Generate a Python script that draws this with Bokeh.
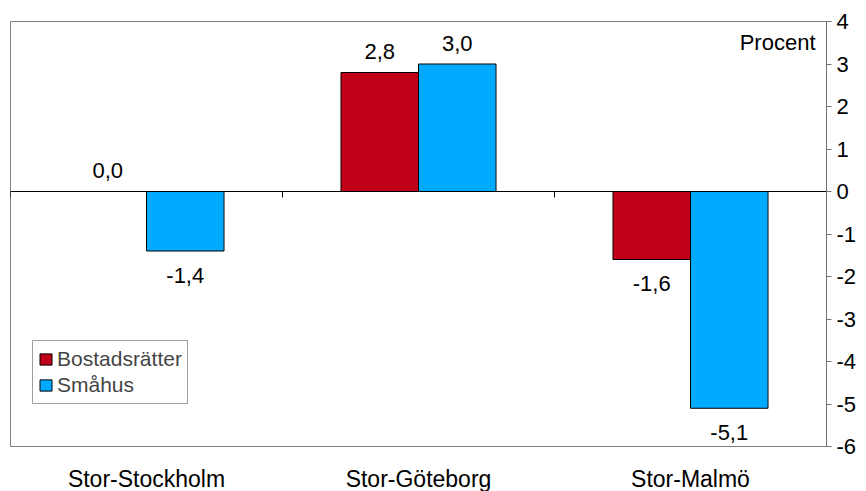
from bokeh.plotting import figure
from bokeh.models import (ColumnDataSource, LinearAxis, FixedTicker,
                          Range1d, Legend, LegendItem)
from bokeh.transform import dodge
from bokeh.core.properties import value
from bokeh.embed import file_html
from bokeh.resources import INLINE

# ---- data ----
regions = ["Stor-Stockholm", "Stor-Göteborg", "Stor-Malmö"]
bostadsratter = [0.0, 2.8, -1.6]
smahus = [-1.4, 3.0, -5.1]
series_names = ["Bostadsrätter", "Småhus"]
y_ticks = [-6, -5, -4, -3, -2, -1, 0, 1, 2, 3, 4]
unit_label = "Procent"

FONT = "Liberation Sans"
RED = "#C00018"
BLUE = "#00AAFF"
BAR_W = 0.285

n = len(regions)
centers = [i + 0.5 for i in range(n)]

p = figure(x_range=Range1d(0, n), y_range=Range1d(y_ticks[0], y_ticks[-1]),
           frame_width=816, frame_height=425, output_backend="svg",
           toolbar_location=None, y_axis_location="right",
           min_border_left=10, min_border_top=21, min_border_right=0, min_border_bottom=0)
p.grid.visible = False
p.outline_line_color = "#808080"
p.background_fill_color = "white"
p.border_fill_color = "white"

# right value axis
ya = p.yaxis[0]
ya.ticker = FixedTicker(ticks=y_ticks)
ya.major_label_overrides = {t: str(t) for t in y_ticks}
ya.major_tick_in = 0
ya.major_tick_out = 5
ya.minor_tick_line_color = None
ya.axis_line_color = "#707070"
ya.major_tick_line_color = "#707070"
ya.major_label_text_font = FONT
ya.major_label_text_font_size = "22px"
ya.major_label_text_color = "black"
ya.major_label_standoff = 5

# category axis
xa = p.xaxis[0]
xa.ticker = FixedTicker(ticks=centers)
xa.major_label_overrides = {c: r for c, r in zip(centers, regions)}
xa.axis_line_color = None
xa.major_tick_line_color = None
xa.major_tick_out = 0
xa.major_tick_in = 0
xa.minor_tick_line_color = None
xa.major_label_text_font = FONT
xa.major_label_text_font_size = "23px"
xa.major_label_text_color = "black"
xa.major_label_standoff = 19

# zero line with category separator ticks
zax = LinearAxis(fixed_location=0,
                 ticker=FixedTicker(ticks=list(range(n + 1))),
                 major_tick_in=0, major_tick_out=6, minor_tick_line_color=None,
                 axis_line_color="black", major_tick_line_color="black",
                 major_label_text_color=None)
p.add_layout(zax, "below")

def fmt(v):
    return f"{v:.1f}".replace(".", ",")

renderers = []
for vals, color, off in [(bostadsratter, RED, -BAR_W / 2), (smahus, BLUE, BAR_W / 2)]:
    src = ColumnDataSource(dict(
        xc=centers, v=vals,
        lbl=[fmt(v) for v in vals],
        yoff=[-21 if v >= 0 else 24 for v in vals],
    ))
    r = p.vbar(x=dodge("xc", off), top="v", bottom=0, width=BAR_W,
               fill_color=color, line_color="black", line_width=1, source=src)
    renderers.append(r)
    p.text(x=dodge("xc", off), y="v", text="lbl", source=src,
           text_align="center", text_baseline="alphabetic", y_offset="yoff",
           text_font=value(FONT), text_font_size="22px", text_color="black")

p.text(x=[n], y=[y_ticks[-1]], text=[unit_label],
       text_align="right", text_baseline="alphabetic", x_offset=-11, y_offset=21,
       text_font=value(FONT), text_font_size="22px", text_color="black")

legend = Legend(items=[LegendItem(label=series_names[0], renderers=[renderers[0]]),
                       LegendItem(label=series_names[1], renderers=[renderers[1]])],
                location=(22, 42), border_line_color="#404040", border_line_width=1,
                background_fill_color="white", background_fill_alpha=1,
                label_text_font=FONT, label_text_font_size="21px",
                glyph_width=15, glyph_height=14, label_height=26,
                padding=5, spacing=0, label_standoff=4, margin=0)
p.add_layout(legend)

open("out.html", "w").write(file_html(p, INLINE))
